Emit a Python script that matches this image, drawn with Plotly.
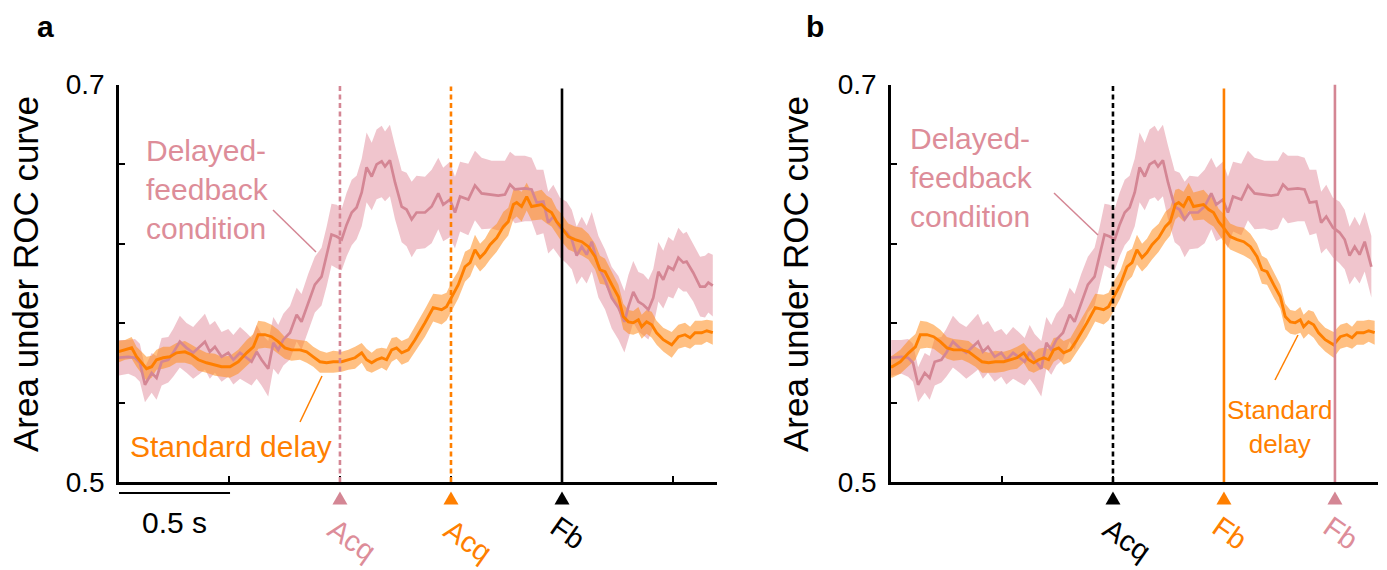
import plotly.graph_objects as go

# ---------------- data (time relative to acquisition, s) ----------------
pink_t = [-0.999, -0.953, -0.923, -0.901, -0.878, -0.848, -0.826, -0.803, -0.773, -0.751,
          -0.721, -0.691, -0.661, -0.631, -0.608, -0.586, -0.563, -0.533, -0.503, -0.480,
          -0.450, -0.420, -0.398, -0.375, -0.353, -0.323, -0.300, -0.278, -0.255, -0.225,
          -0.195, -0.173, -0.143, -0.113, -0.083, -0.060, -0.038, -0.015, 0.008, 0.030,
          0.053, 0.075, 0.098, 0.120, 0.143, 0.165, 0.188, 0.203, 0.225, 0.248,
          0.278, 0.300, 0.323, 0.345, 0.383, 0.413, 0.443, 0.465, 0.495, 0.518,
          0.541, 0.578, 0.608, 0.638, 0.683, 0.713, 0.743, 0.766, 0.788, 0.833,
          0.863, 0.886, 0.916, 0.938, 0.961, 0.991, 1.021, 1.044, 1.066, 1.089,
          1.111, 1.134, 1.164, 1.194, 1.224, 1.254, 1.281, 1.299, 1.321, 1.344,
          1.366, 1.389, 1.411, 1.434, 1.456, 1.479, 1.501, 1.524, 1.546, 1.561,
          1.591, 1.622, 1.644, 1.659, 1.679]
pink_auc = [0.5625, 0.5630, 0.5625, 0.5600, 0.5489, 0.5549, 0.5524, 0.5605, 0.5615, 0.5650,
            0.5706, 0.5675, 0.5650, 0.5680, 0.5706, 0.5655, 0.5680, 0.5630, 0.5650, 0.5615,
            0.5650, 0.5625, 0.5605, 0.5655, 0.5615, 0.5570, 0.5700, 0.5665, 0.5716, 0.5751,
            0.5842, 0.5806, 0.5902, 0.5993, 0.6033, 0.6134, 0.6245, 0.6235, 0.6220, 0.6295,
            0.6356, 0.6381, 0.6457, 0.6583, 0.6537, 0.6598, 0.6613, 0.6588, 0.6618, 0.6507,
            0.6386, 0.6371, 0.6321, 0.6356, 0.6356, 0.6386, 0.6452, 0.6396, 0.6421, 0.6356,
            0.6436, 0.6421, 0.6492, 0.6452, 0.6446, 0.6441, 0.6446, 0.6497, 0.6472, 0.6477,
            0.6472, 0.6406, 0.6411, 0.6305, 0.6336, 0.6280, 0.6255, 0.6220, 0.6139, 0.6184,
            0.6144, 0.6209, 0.6083, 0.6018, 0.5927, 0.5877, 0.5806, 0.5882, 0.5957, 0.5907,
            0.5892, 0.5867, 0.5927, 0.6058, 0.6018, 0.6083, 0.6068, 0.6129, 0.6104, 0.6109,
            0.6053, 0.5983, 0.5983, 0.6003, 0.5988]
pink_sem = [0.0090, 0.0085, 0.0095, 0.0095, 0.0088, 0.0100, 0.0110, 0.0120, 0.0115, 0.0120,
            0.0130, 0.0125, 0.0130, 0.0135, 0.0140, 0.0135, 0.0130, 0.0125, 0.0120, 0.0125,
            0.0130, 0.0125, 0.0120, 0.0135, 0.0130, 0.0140, 0.0130, 0.0125, 0.0130, 0.0135,
            0.0135, 0.0140, 0.0145, 0.0140, 0.0145, 0.0150, 0.0155, 0.0160, 0.0155, 0.0160,
            0.0165, 0.0160, 0.0170, 0.0175, 0.0170, 0.0175, 0.0180, 0.0175, 0.0180, 0.0185,
            0.0180, 0.0185, 0.0190, 0.0185, 0.0180, 0.0185, 0.0180, 0.0185, 0.0190, 0.0180,
            0.0175, 0.0180, 0.0175, 0.0180, 0.0170, 0.0175, 0.0170, 0.0165, 0.0170, 0.0165,
            0.0160, 0.0165, 0.0160, 0.0155, 0.0160, 0.0150, 0.0155, 0.0150, 0.0145, 0.0150,
            0.0145, 0.0150, 0.0155, 0.0150, 0.0155, 0.0160, 0.0155, 0.0160, 0.0155, 0.0150,
            0.0155, 0.0150, 0.0145, 0.0150, 0.0145, 0.0150, 0.0145, 0.0150, 0.0145, 0.0150,
            0.0145, 0.0150, 0.0155, 0.0150, 0.0155]

std_t = [-1.499, -1.468, -1.438, -1.416, -1.393, -1.371, -1.348, -1.326, -1.296, -1.266,
         -1.236, -1.198, -1.168, -1.138, -1.101, -1.063, -1.033, -0.995, -0.958, -0.920,
         -0.890, -0.868, -0.838, -0.808, -0.778, -0.748, -0.718, -0.680, -0.650, -0.620,
         -0.590, -0.560, -0.530, -0.492, -0.462, -0.432, -0.402, -0.380, -0.357, -0.335,
         -0.312, -0.290, -0.267, -0.245, -0.222, -0.192, -0.162, -0.140, -0.117, -0.080,
         -0.042, -0.020, 0.003, 0.033, 0.063, 0.086, 0.108, 0.131, 0.153, 0.176,
         0.206, 0.236, 0.258, 0.281, 0.296, 0.318, 0.341, 0.363, 0.408, 0.431,
         0.453, 0.476, 0.498, 0.528, 0.559, 0.589, 0.619, 0.649, 0.671, 0.694,
         0.724, 0.754, 0.776, 0.799, 0.821, 0.844, 0.859, 0.881, 0.904, 0.926,
         0.956, 0.994, 1.024, 1.054, 1.077, 1.099, 1.129, 1.152, 1.179]
std_auc = [0.5655, 0.5665, 0.5675, 0.5630, 0.5600, 0.5570, 0.5580, 0.5615, 0.5625, 0.5630,
           0.5650, 0.5655, 0.5640, 0.5615, 0.5600, 0.5590, 0.5580, 0.5580, 0.5605, 0.5650,
           0.5680, 0.5741, 0.5741, 0.5731, 0.5706, 0.5675, 0.5665, 0.5665, 0.5655, 0.5630,
           0.5605, 0.5600, 0.5605, 0.5605, 0.5615, 0.5625, 0.5650, 0.5615, 0.5600, 0.5615,
           0.5625, 0.5615, 0.5665, 0.5675, 0.5650, 0.5665, 0.5716, 0.5756, 0.5801, 0.5877,
           0.5867, 0.5882, 0.5932, 0.5993, 0.6083, 0.6104, 0.6169, 0.6129, 0.6154, 0.6194,
           0.6229, 0.6285, 0.6310, 0.6396, 0.6406, 0.6386, 0.6436, 0.6386, 0.6396, 0.6371,
           0.6356, 0.6310, 0.6280, 0.6235, 0.6220, 0.6209, 0.6184, 0.6134, 0.6068, 0.6058,
           0.5993, 0.5932, 0.5832, 0.5806, 0.5801, 0.5816, 0.5781, 0.5806, 0.5791, 0.5751,
           0.5716, 0.5690, 0.5731, 0.5741, 0.5726, 0.5751, 0.5751, 0.5761, 0.5751]
std_sem = [0.0055, 0.0050, 0.0055, 0.0050, 0.0055, 0.0060, 0.0055, 0.0050, 0.0055, 0.0050,
           0.0050, 0.0055, 0.0050, 0.0055, 0.0050, 0.0055, 0.0050, 0.0055, 0.0060, 0.0065,
           0.0065, 0.0070, 0.0065, 0.0060, 0.0060, 0.0055, 0.0055, 0.0050, 0.0055, 0.0050,
           0.0055, 0.0050, 0.0055, 0.0050, 0.0050, 0.0055, 0.0050, 0.0055, 0.0050, 0.0055,
           0.0050, 0.0055, 0.0060, 0.0055, 0.0060, 0.0060, 0.0065, 0.0065, 0.0070, 0.0070,
           0.0075, 0.0070, 0.0075, 0.0070, 0.0075, 0.0070, 0.0075, 0.0070, 0.0070, 0.0075,
           0.0070, 0.0075, 0.0070, 0.0075, 0.0070, 0.0075, 0.0070, 0.0070, 0.0075, 0.0070,
           0.0070, 0.0065, 0.0070, 0.0065, 0.0065, 0.0070, 0.0065, 0.0065, 0.0070, 0.0065,
           0.0065, 0.0060, 0.0065, 0.0060, 0.0060, 0.0065, 0.0060, 0.0060, 0.0065, 0.0060,
           0.0060, 0.0065, 0.0060, 0.0060, 0.0055, 0.0060, 0.0060, 0.0055, 0.0060]

# event timings (s): acquisition -> feedback delay for each condition
pink_acq_to_fb = 1.0
std_acq_to_fb = 0.5

y_ticks = [0.5, 0.54, 0.58, 0.62, 0.66, 0.7]
y_ticktext = ["0.5", "", "", "", "", "0.7"]
xa_ticks = [-1.5, -1.0, -0.5, 0.0, 0.5]
xb_ticks = [-0.5, 0.0, 0.5, 1.0]
xa_range = [-1.995, 0.698]
xb_range = [-1.0, 1.194]
b_data_end = 1.18

# ---------------- style ----------------
FONT = "Arial, Liberation Sans, sans-serif"
PINK = "rgb(212,134,148)"
PINK_TXT = "rgb(221,141,153)"
PINK_BAND = "rgba(226,140,155,0.5)"
ORANGE = "rgb(255,127,0)"
ORANGE_BAND = "rgba(255,140,30,0.55)"
W, H = 1387, 570


def px_x(p):
    return p / W


def px_y(p):
    return 1 - p / H


fig = go.Figure()


def add_series(x, m, s, line_col, band_col, xa, ya, lw):
    up = [a + b for a, b in zip(m, s)]
    lo = [a - b for a, b in zip(m, s)]
    band = go.Scatter(x=list(x) + list(x)[::-1], y=up + lo[::-1], fill="toself",
                      fillcolor=band_col, line=dict(width=0), mode="lines",
                      hoverinfo="skip", showlegend=False, xaxis=xa, yaxis=ya)
    line = go.Scatter(x=x, y=m, mode="lines", line=dict(color=line_col, width=lw),
                      showlegend=False, xaxis=xa, yaxis=ya)
    return band, line


# panel a (aligned on feedback)
pa_x = [t - pink_acq_to_fb for t in pink_t]
sa_x = [t - std_acq_to_fb for t in std_t]
pb_a, pl_a = add_series(pa_x, pink_auc, pink_sem, PINK, PINK_BAND, "x", "y", 2.7)
sb_a, sl_a = add_series(sa_x, std_auc, std_sem, ORANGE, ORANGE_BAND, "x", "y", 2.9)

# panel b (aligned on acquisition)
pk = [i for i, t in enumerate(pink_t) if t <= b_data_end]
sk = [i for i, t in enumerate(std_t) if t <= b_data_end]
pb_b, pl_b = add_series([pink_t[i] for i in pk], [pink_auc[i] for i in pk],
                        [pink_sem[i] for i in pk], PINK, PINK_BAND, "x2", "y2", 2.7)
sb_b, sl_b = add_series([std_t[i] for i in sk], [std_auc[i] for i in sk],
                        [std_sem[i] for i in sk], ORANGE, ORANGE_BAND, "x2", "y2", 2.9)

for tr in [pb_a, sb_a, pl_a, sl_a, pb_b, sb_b, pl_b, sl_b]:
    fig.add_trace(tr)

shapes = []

# event markers (triangles below the time axis)
ev_a_x = [-pink_acq_to_fb, -std_acq_to_fb, 0.0]
ev_a_c = [PINK, ORANGE, "black"]
ev_b_x = [0.0, std_acq_to_fb, pink_acq_to_fb]
ev_b_c = ["black", ORANGE, PINK]
TRI = "M -7.5 -6.5 L 7.5 -6.5 L 0 6.5 Z"
for xref, xs, cs in [("x", ev_a_x, ev_a_c), ("x2", ev_b_x, ev_b_c)]:
    for xv, c in zip(xs, cs):
        shapes.append(dict(type="path", xref=xref, yref="paper", xsizemode="pixel",
                           ysizemode="pixel", xanchor=xv, yanchor=px_y(498), path=TRI,
                           fillcolor=c, line=dict(width=0)))


def vline(x, xref, yref, color, dash, top):
    shapes.append(dict(type="line", xref=xref, yref=yref, x0=x, x1=x, y0=0.5, y1=top,
                       line=dict(color=color, width=2.6, dash=dash), layer="above"))


DOT = "5px,3.5px"
vline(-pink_acq_to_fb, "x", "y", PINK, DOT, 0.7)
vline(-std_acq_to_fb, "x", "y", ORANGE, DOT, 0.699)
vline(0.0, "x", "y", "black", "solid", 0.698)
vline(0.0, "x2", "y2", "black", DOT, 0.7)
vline(std_acq_to_fb, "x2", "y2", ORANGE, "solid", 0.698)
vline(pink_acq_to_fb, "x2", "y2", PINK, "solid", 0.7)


# leader lines (paper px)
def leader(p0, p1, color):
    shapes.append(dict(type="line", xref="paper", yref="paper",
                       x0=px_x(p0[0]), y0=px_y(p0[1]), x1=px_x(p1[0]), y1=px_y(p1[1]),
                       line=dict(color=color, width=1.5)))


leader((273, 210), (316, 252), PINK)
leader((300, 422), (322, 376), ORANGE)
leader((1054, 193), (1098, 235), PINK)
leader((1275, 380), (1298, 335), ORANGE)

# scale bar
shapes.append(dict(type="line", xref="x", yref="paper", x0=xa_range[0], x1=xa_range[0] + 0.5,
                   y0=px_y(493), y1=px_y(493), line=dict(color="black", width=2)))

ann = []


def text(x, y, s, size, color, xanchor="center", yanchor="middle", align="center",
         angle=0, bold=False, xref="paper", xshift=0):
    ann.append(dict(x=x, y=y, xref=xref, yref="paper", text=(f"<b>{s}</b>" if bold else s),
                    showarrow=False, xanchor=xanchor, yanchor=yanchor, align=align,
                    textangle=angle, xshift=xshift,
                    font=dict(family=FONT, size=size, color=color)))


text(px_x(45), px_y(26), "a", 30, "black", bold=True)
text(px_x(815), px_y(26), "b", 30, "black", bold=True)
text(px_x(26), px_y(274), "Area under ROC curve", 35, "black", angle=-90)
text(px_x(796), px_y(274), "Area under ROC curve", 35, "black", angle=-90)

text(px_x(144), px_y(190), "Delayed-<br>feedback<br>condition", 30, PINK_TXT,
     xanchor="left", align="left")
text(px_x(908), px_y(177), "Delayed-<br>feedback<br>condition", 30, PINK_TXT,
     xanchor="left", align="left")
text(px_x(231), px_y(446), "Standard delay", 30, ORANGE)
text(px_x(1280), px_y(427), "Standard<br>delay", 26, ORANGE)

text(xa_range[0] + 0.25, px_y(522), "0.5 s", 30, "black", xref="x")

# event labels
text(-pink_acq_to_fb, px_y(540), "Acq", 29, PINK_TXT, angle=35, xref="x", xshift=12)
text(-std_acq_to_fb, px_y(541), "Acq", 29, ORANGE, angle=35, xref="x", xshift=17)
text(0.0, px_y(533), "Fb", 29, "black", angle=35, xref="x", xshift=6)
text(0.0, px_y(540), "Acq", 29, "black", angle=35, xref="x2", xshift=14)
text(std_acq_to_fb, px_y(533), "Fb", 29, ORANGE, angle=35, xref="x2", xshift=6)
text(pink_acq_to_fb, px_y(533), "Fb", 29, PINK_TXT, angle=35, xref="x2", xshift=6)

ydom = [px_y(482), px_y(84.5)]
axis_common = dict(showline=True, linecolor="black", linewidth=2.5, ticks="inside",
                   ticklen=6, tickwidth=2, tickcolor="black", showgrid=False,
                   zeroline=False, automargin=False)

fig.update_layout(
    template="none",
    width=W, height=H, margin=dict(l=0, r=0, t=0, b=0, pad=0),
    plot_bgcolor="white", paper_bgcolor="white",
    font=dict(family=FONT, color="black"),
    showlegend=False,
    xaxis=dict(domain=[px_x(119), px_x(717)], range=xa_range, tickvals=xa_ticks,
               showticklabels=False, anchor="y", **axis_common),
    yaxis=dict(domain=ydom, range=[0.5, 0.7], tickvals=y_ticks, ticktext=y_ticktext,
               tickfont=dict(size=28), anchor="x", ticklabelstandoff=6, **axis_common),
    xaxis2=dict(domain=[px_x(891), px_x(1378)], range=xb_range, tickvals=xb_ticks,
                showticklabels=False, anchor="y2", **axis_common),
    yaxis2=dict(domain=ydom, range=[0.5, 0.7], tickvals=y_ticks, ticktext=y_ticktext,
                tickfont=dict(size=28), anchor="x2", ticklabelstandoff=6, **axis_common),
    shapes=shapes, annotations=ann,
)

fig.write_html("out.html")
